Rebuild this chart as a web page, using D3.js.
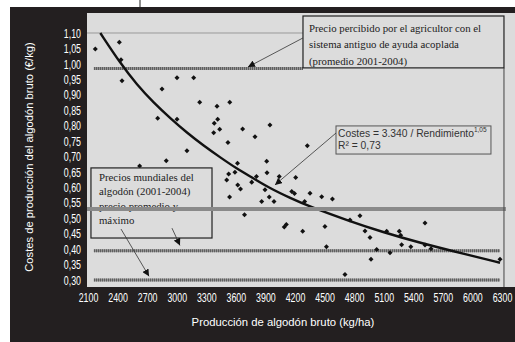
<!DOCTYPE html>
<html><head><meta charset="utf-8">
<script src="https://cdn.jsdelivr.net/npm/d3@7"></script>
<style>html,body{margin:0;padding:0;background:#fff;} svg{display:block}</style>
</head><body>
<svg id="chart" width="515" height="342"></svg>
<script>
// ---------- data ----------
const xTicks = [2100, 2400, 2700, 3000, 3300, 3600, 3900, 4200, 4500, 4800, 5100, 5400, 5700, 6000, 6300];
const yTicks = [0.30, 0.35, 0.40, 0.45, 0.50, 0.55, 0.60, 0.65, 0.70, 0.75, 0.80, 0.85, 0.90, 0.95, 1.00, 1.05, 1.10];

const farmYield = [2174, 2418, 2435, 2445, 3003, 3172, 2851, 3233, 3409, 3538,
  2807, 3003, 3416, 3381, 3436, 3375, 3669, 3794, 3520, 3104,
  2894, 2624, 3617, 3527, 3591, 3507, 3946, 4325, 3913, 3809,
  3916, 4040, 4207, 3619, 3647, 3761, 3896, 4167, 4195, 4352,
  4471, 4580, 3536, 3862, 3939, 3987, 4298, 3688, 4112, 4091,
  4504, 4278, 4519, 4758, 4859, 4910, 4961, 4971, 5029, 5130,
  5164, 5258, 5272, 5282, 5375, 5519, 5519, 5580, 4707, 6280];
const farmCost = [1.048, 1.070, 1.013, 0.945, 0.955, 0.955, 0.919, 0.876, 0.863, 0.876,
  0.824, 0.821, 0.821, 0.808, 0.788, 0.777, 0.789, 0.764, 0.745, 0.719,
  0.686, 0.669, 0.678, 0.643, 0.649, 0.624, 0.802, 0.735, 0.685, 0.635,
  0.647, 0.635, 0.632, 0.608, 0.595, 0.617, 0.592, 0.587, 0.580, 0.581,
  0.570, 0.562, 0.569, 0.554, 0.569, 0.554, 0.554, 0.511, 0.480, 0.472,
  0.473, 0.458, 0.408, 0.494, 0.508, 0.459, 0.438, 0.367, 0.399, 0.458,
  0.388, 0.458, 0.445, 0.414, 0.408, 0.485, 0.413, 0.401, 0.318, 0.367];

const trendYield = [2225, 2428, 2597, 2767, 2935, 3104, 3274, 3442, 3612, 3781, 3946, 4149, 4332, 4758, 5093, 5438, 5945, 6280];
const trendCost  = [1.100, 1.002, 0.932, 0.874, 0.824, 0.777, 0.735, 0.697, 0.660, 0.629, 0.597, 0.566, 0.540, 0.490, 0.455, 0.423, 0.382, 0.356];

const oldAidPrice = 0.985;      // precio percibido con ayuda acoplada
const midLevel = 0.53;          // línea gris
const worldPrices = [0.395, 0.30];

const noteFarmer = ["Precio percibido por el agricultor con el", "sistema antiguo de ayuda acoplada", "(promedio 2001-2004)"];
const noteWorld = ["Precios mundiales del", "algodón (2001-2004)", "precio promedio y", "máximo"];
const noteFit = ["Costes = 3.340 / Rendimiento", "1,05", "R² = 0,73"];
const xTitle = "Producción de algodón bruto (kg/ha)";
const yTitle = "Costes de producción del algodón bruto (€/kg)";

// ---------- drawing ----------
const svg = d3.select("#chart");
const x = d3.scaleLinear([2100, 6300], [88, 502]);
const y = d3.scaleLinear([0.30, 1.10], [280, 33]);
const fmt = d => d.toFixed(2).replace(".", ",");
const sans = "'Liberation Sans', Arial, sans-serif";
const serif = "'Liberation Serif', 'Times New Roman', serif";

svg.append("rect").attr("width", 515).attr("height", 342).attr("fill", "#fff");
svg.append("line").attr("x1", 140).attr("x2", 140).attr("y1", 0).attr("y2", 8).attr("stroke", "#222").attr("stroke-width", 1);
svg.append("rect").attr("x", 10).attr("y", 7).attr("width", 505).attr("height", 335).attr("fill", "#231f20");
svg.append("rect").attr("x", 87).attr("y", 13).attr("width", 428).attr("height", 274).attr("fill", "#dcdcdc");

const defs = svg.append("defs");
defs.append("marker").attr("id", "arr").attr("viewBox", "0 0 10 10").attr("refX", 10).attr("refY", 5)
  .attr("markerWidth", 7).attr("markerHeight", 7).attr("markerUnits", "userSpaceOnUse").attr("orient", "auto")
  .append("path").attr("d", "M0,0L10,5L0,10Z").attr("fill", "#111");

// top gridline
svg.append("line").attr("x1", 87).attr("x2", x(4281)).attr("y1", y(1.10)).attr("y2", y(1.10))
  .attr("stroke", "#999").attr("stroke-width", 1);

// dashed reference lines
function hatched(v, x0, x1) {
  svg.append("line").attr("x1", x(x0)).attr("x2", x(x1)).attr("y1", y(v)).attr("y2", y(v))
    .attr("stroke", "#9a9a9a").attr("stroke-width", 3);
  svg.append("line").attr("x1", x(x0)).attr("x2", x(x1)).attr("y1", y(v)).attr("y2", y(v))
    .attr("stroke", "#5a5a5a").attr("stroke-width", 3).attr("stroke-dasharray", "1,1");
}
hatched(oldAidPrice, 2160, 4281);
worldPrices.forEach(v => hatched(v, 2160, 6280));

// points
const pts = farmYield.map((r, i) => [r, farmCost[i]]);
svg.append("g").selectAll("path").data(pts).join("path")
  .attr("transform", d => `translate(${x(d[0])},${y(d[1])})`)
  .attr("d", d3.symbol(d3.symbolDiamond2, 16))
  .attr("fill", "#111");

// trend line
const trend = trendYield.map((r, i) => [r, trendCost[i]]);
svg.append("path").datum(trend)
  .attr("d", d3.line().x(d => x(d[0])).y(d => y(d[1])).curve(d3.curveBasis))
  .attr("fill", "none").attr("stroke", "#111").attr("stroke-width", 2.4);

// world price box
const b3 = {x0: x(2130), x1: x(3358), y0: y(0.663), y1: y(0.436)};
svg.append("rect").attr("x", b3.x0).attr("y", b3.y0).attr("width", b3.x1 - b3.x0).attr("height", b3.y1 - b3.y0)
  .attr("fill", "#dcdcdc").attr("stroke", "#222").attr("stroke-width", 1.2);
noteWorld.forEach((t, i) => svg.append("text").attr("x", b3.x0 + 8).attr("y", b3.y0 + 13 + i * 14.5)
  .attr("font-family", serif).attr("font-size", 10.8).attr("fill", "#222").text(t));

// solid grey level line
svg.append("line").attr("x1", x(2090)).attr("x2", x(6340)).attr("y1", y(midLevel)).attr("y2", y(midLevel))
  .attr("stroke", "#8a8a8a").attr("stroke-width", 4);

// farmer price box
const b1 = {x0: x(4281), x1: x(6320), y0: 16, y1: y(0.987)};
svg.append("rect").attr("x", b1.x0).attr("y", b1.y0).attr("width", b1.x1 - b1.x0).attr("height", b1.y1 - b1.y0)
  .attr("fill", "#dcdcdc").attr("stroke", "#222").attr("stroke-width", 1.2);
noteFarmer.forEach((t, i) => svg.append("text").attr("x", b1.x0 + 6).attr("y", b1.y0 + 15.7 + i * 16.4)
  .attr("font-family", serif).attr("font-size", 10.8).attr("fill", "#222").text(t));
svg.append("line").attr("x1", b1.x1).attr("x2", b1.x1).attr("y1", b1.y1).attr("y2", 287)
  .attr("stroke", "#444").attr("stroke-width", 1);

// fit box
const b2 = {x0: x(4616), x1: x(6188), y0: y(0.799), y1: y(0.708)};
svg.append("rect").attr("x", b2.x0).attr("y", b2.y0).attr("width", b2.x1 - b2.x0).attr("height", b2.y1 - b2.y0)
  .attr("fill", "#dcdcdc").attr("stroke", "#555").attr("stroke-width", 1);
const t1 = svg.append("text").attr("x", b2.x0 + 2).attr("y", b2.y0 + 11.3)
  .attr("font-family", sans).attr("font-size", 10.3).attr("fill", "#333");
t1.append("tspan").text(noteFit[0]);
t1.append("tspan").attr("dy", -5).attr("font-size", 6.5).text(noteFit[1]);
svg.append("text").attr("x", b2.x0 + 2).attr("y", b2.y0 + 23)
  .attr("font-family", sans).attr("font-size", 10.3).attr("fill", "#333").text(noteFit[2]);

// arrows
function arrow(ax, ay, bx, by) {
  svg.append("line").attr("x1", x(ax)).attr("y1", y(ay)).attr("x2", x(bx)).attr("y2", y(by))
    .attr("stroke", "#333").attr("stroke-width", 0.8).attr("marker-end", "url(#arr)");
}
arrow(4281, 1.084, 3723, 0.990);
arrow(4616, 0.776, 3997, 0.608);
arrow(2435, 0.465, 2719, 0.312);
arrow(2952, 0.468, 3033, 0.412);

// axes
const sx = 0.68;
const gy = svg.append("g").attr("transform", "translate(87,0)")
  .call(d3.axisLeft(y).tickValues(yTicks).tickSize(0).tickPadding(6).tickFormat(fmt));
gy.select(".domain").remove();
gy.selectAll("text").attr("fill", "#fff").attr("font-family", sans).attr("font-size", 13)
  .attr("x", -6 / sx).attr("transform", `scale(${sx},1)`);

const gx = svg.append("g").attr("transform", "translate(0,287)")
  .call(d3.axisBottom(x).tickValues(xTicks).tickSize(0).tickPadding(6).tickFormat(d3.format("d")));
gx.select(".domain").remove();
gx.selectAll("text").attr("fill", "#fff").attr("font-family", sans).attr("font-size", 13)
  .attr("transform", `scale(${sx},1)`);

svg.append("text").attr("x", 283).attr("y", 326).attr("text-anchor", "middle")
  .attr("font-family", sans).attr("font-size", 11.3).attr("fill", "#fff").text(xTitle);
svg.append("text").attr("transform", "translate(32.5,157) rotate(-90)").attr("text-anchor", "middle")
  .attr("font-family", sans).attr("font-size", 11.2).attr("fill", "#fff").text(yTitle);
</script>
</body></html>
